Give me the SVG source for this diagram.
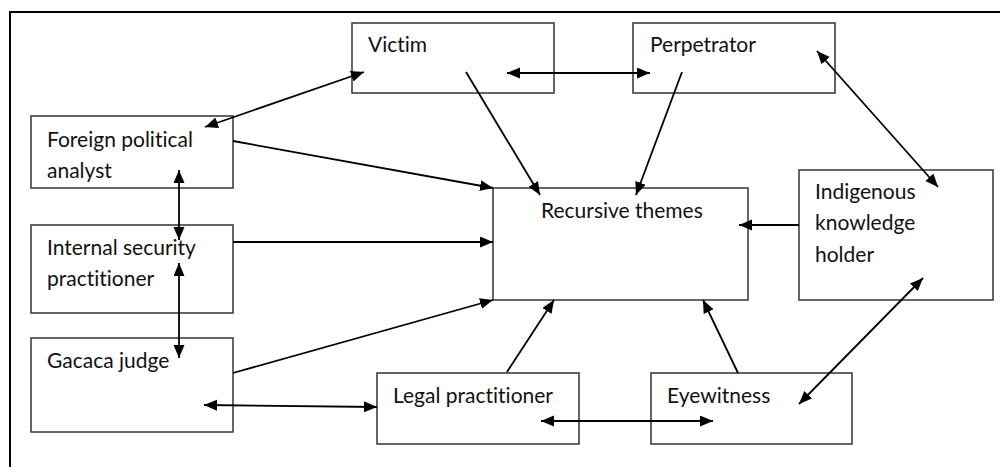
<svg xmlns="http://www.w3.org/2000/svg" width="1000" height="467" viewBox="0 0 1000 467">
<defs>
<marker id="ah" markerUnits="userSpaceOnUse" markerWidth="14" markerHeight="12" refX="13" refY="5.5" orient="auto-start-reverse" viewBox="0 0 14 12">
<path d="M0,0 L13,5.5 L0,11 z" fill="#000"/>
</marker>
<style>
.box{fill:#fff;stroke:#333;stroke-width:1.5}
.t{font-family:Lato,"Liberation Sans",sans-serif;font-size:21px;fill:#111;font-variant-ligatures:none}
.c{stroke:#000;stroke-width:1.8;fill:none}
.one{marker-end:url(#ah)}
.two{marker-start:url(#ah);marker-end:url(#ah)}
</style>
</defs>
<rect width="1000" height="467" fill="#fff"/>
<path d="M10,467 V12 H1000" fill="none" stroke="#000" stroke-width="2"/>
<g id="victim"><rect class="box" x="352" y="23" width="202" height="70"/><text class="t" x="368" y="52">Victim</text></g>
<g id="perpetrator"><rect class="box" x="633" y="23" width="202" height="70"/><text class="t" x="650" y="52">Perpetrator</text></g>
<g id="foreign"><rect class="box" x="31" y="116" width="202" height="72"/><text class="t" x="47" y="147">Foreign political</text><text class="t" x="47" y="178">analyst</text></g>
<g id="internal"><rect class="box" x="31" y="225" width="202" height="88"/><text class="t" x="47" y="255">Internal security</text><text class="t" x="47" y="286">practitioner</text></g>
<g id="gacaca"><rect class="box" x="31" y="338" width="202" height="94"/><text class="t" x="47" y="368">Gacaca judge</text></g>
<g id="recursive"><rect class="box" x="493" y="188" width="255" height="112"/><text class="t" x="541" y="218">Recursive themes</text></g>
<g id="indigenous"><rect class="box" x="799" y="170" width="194" height="130"/><text class="t" x="815" y="199">Indigenous</text><text class="t" x="815" y="230">knowledge</text><text class="t" x="815" y="262">holder</text></g>
<g id="legal"><rect class="box" x="377" y="373" width="202" height="71"/><text class="t" x="393" y="403">Legal practitioner</text></g>
<g id="eyewitness"><rect class="box" x="651" y="373" width="201" height="71"/><text class="t" x="667" y="403">Eyewitness</text></g>
<g id="connectors">
<line class="c two" x1="205" y1="127" x2="364" y2="72"/>
<line class="c two" x1="507" y1="73" x2="650" y2="73"/>
<line class="c one" x1="466" y1="72" x2="540" y2="195"/>
<line class="c one" x1="682" y1="72" x2="636" y2="195"/>
<line class="c two" x1="817" y1="51" x2="938" y2="187"/>
<line class="c one" x1="799" y1="225" x2="739" y2="225"/>
<line class="c one" x1="233" y1="141" x2="493" y2="188"/>
<line class="c two" x1="179" y1="170" x2="179" y2="240"/>
<line class="c two" x1="179" y1="263" x2="179" y2="358"/>
<line class="c one" x1="233" y1="242" x2="493" y2="242"/>
<line class="c one" x1="233" y1="373" x2="493" y2="300"/>
<line class="c two" x1="204" y1="405" x2="377" y2="407"/>
<line class="c one" x1="507" y1="372" x2="554" y2="300"/>
<line class="c one" x1="738" y1="373" x2="703" y2="300"/>
<line class="c two" x1="923" y1="278" x2="799" y2="404"/>
<line class="c two" x1="541" y1="421" x2="713" y2="421"/>
</g>
</svg>
